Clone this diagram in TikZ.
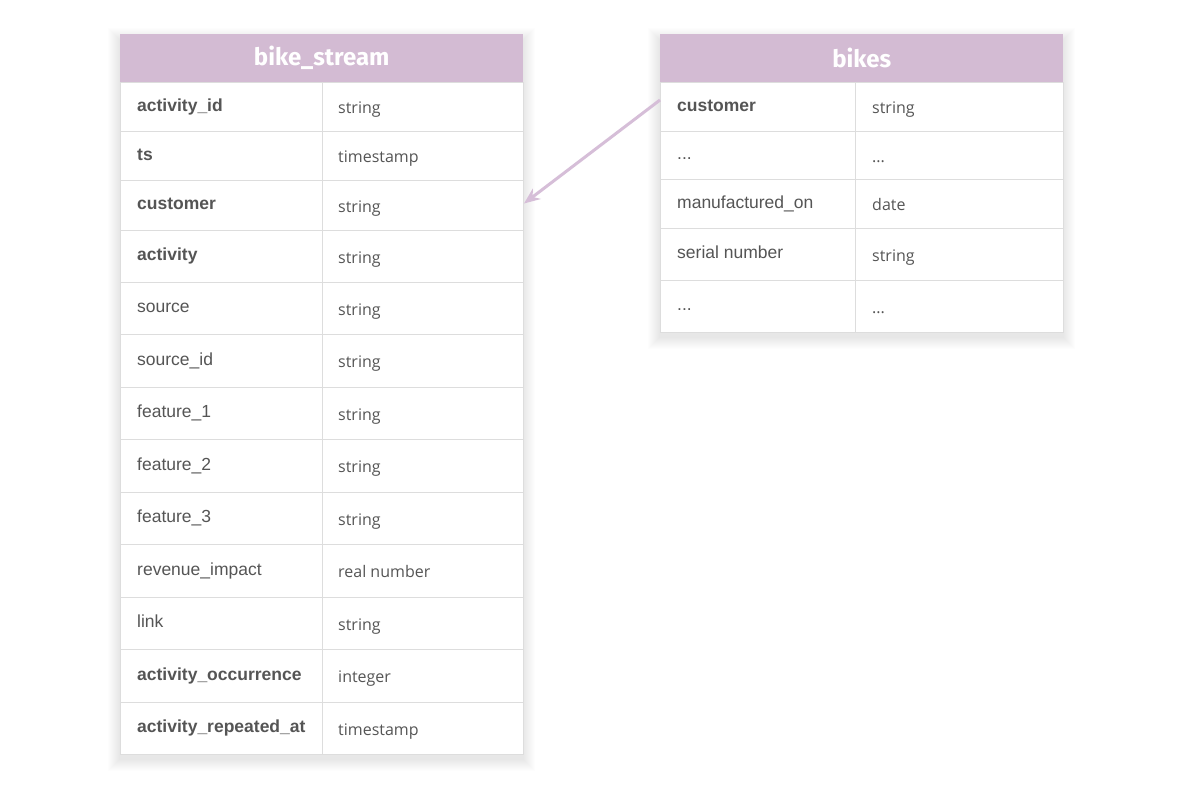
\documentclass[tikz,border=0pt]{standalone}
\usepackage{fontspec}
\usepackage{tikz}
\usetikzlibrary{arrows.meta,calc}
\newfontfamily\namefont{Liberation Sans}
\newfontfamily\typefont{Open Sans}
\newfontfamily\headfont{Fira Sans}
\definecolor{headpurple}{RGB}{211,187,211}
\definecolor{arrowpurple}{RGB}{214,190,216}
\definecolor{gridgrey}{RGB}{221,221,221}
\definecolor{textgrey}{RGB}{85,85,85}
\newcommand{\dotcell}{...}
\begin{document}
\begin{tikzpicture}[x=1pt,y=-1pt,
	headcell/.style={rectangle,fill=headpurple,inner sep=0,anchor=north west,text=white,font=\headfont\bfseries\fontsize{24}{28}\selectfont},
	cell/.style={rectangle,draw=gridgrey,line width=1pt,fill=white,inner sep=0,anchor=north west},
	keyname/.style={anchor=base west,inner sep=0,text=textgrey,font=\namefont\bfseries\fontsize{17.5}{20}\selectfont},
	plainname/.style={anchor=base west,inner sep=0,text=textgrey,font=\namefont\fontsize{17.5}{20}\selectfont},
	typename/.style={anchor=base west,inner sep=0,text=textgrey,font=\typefont\fontsize{16}{19}\selectfont}]
	\useasboundingbox[fill=white] (0,0) rectangle (1200,806);
	
	% soft shadows
	\foreach \s in {1,...,12}
	{\fill[black,opacity=0.007] (120-\s,34-\s+6) rectangle (523+\s,754+\s+5);
		\fill[black,opacity=0.007] (660-\s,34-\s+6) rectangle (1063+\s,332+\s+5);}
	
	% bike_stream
	\node [headcell,minimum width=403pt,minimum height=48pt] (bs-head) at (120,34) {bike\_stream};
	\foreach \nm/\tp/\ft/\yt/\yb [count=\i] in {activity\_id/string/keyname/82/131,
		ts/timestamp/keyname/131/180,
		customer/string/keyname/180/230,
		activity/string/keyname/230/282,
		source/string/plainname/282/334,
		source\_id/string/plainname/334/387,
		feature\_1/string/plainname/387/439,
		feature\_2/string/plainname/439/492,
		feature\_3/string/plainname/492/544,
		revenue\_impact/real number/plainname/544/597,
		link/string/plainname/597/649,
		activity\_occurrence/integer/keyname/649/702,
		activity\_repeated\_at/timestamp/keyname/702/754}
	{\pgfmathsetmacro{\h}{\yb-\yt}
		\node [cell,minimum width=202pt,minimum height=\h pt] (bs-name-\i) at (120,\yt) {};
		\node [cell,minimum width=201pt,minimum height=\h pt] (bs-type-\i) at (322,\yt) {};
		\node [\ft] (bs-nlab-\i) at ($(bs-name-\i.west)+(17,4)$) {\nm};
		\node [typename] (bs-tlab-\i) at ($(bs-type-\i.west)+(16,6.5)$) {\tp};}
	
	% bikes
	\node [headcell,minimum width=403pt,minimum height=48pt] (bk-head) at (660,34) {bikes};
	\foreach \nm/\tp/\ft/\yt/\yb [count=\i] in {customer/string/keyname/82/131,
		\dotcell/\dotcell/plainname/131/179,
		manufactured\_on/date/plainname/179/228,
		serial number/string/plainname/228/280,
		\dotcell/\dotcell/plainname/280/332}
	{\pgfmathsetmacro{\h}{\yb-\yt}
		\node [cell,minimum width=195pt,minimum height=\h pt] (bk-name-\i) at (660,\yt) {};
		\node [cell,minimum width=208pt,minimum height=\h pt] (bk-type-\i) at (855,\yt) {};
		\node [\ft] (bk-nlab-\i) at ($(bk-name-\i.west)+(17,4)$) {\nm};
		\node [typename] (bk-tlab-\i) at ($(bk-type-\i.west)+(17,6.5)$) {\tp};}
	
	\draw [arrowpurple,line width=3pt,-{Stealth[length=16pt,width=13pt]}] ([yshift=7pt]bk-name-1.west) -- ([yshift=2pt]bs-type-3.east);
\end{tikzpicture}
\end{document}
